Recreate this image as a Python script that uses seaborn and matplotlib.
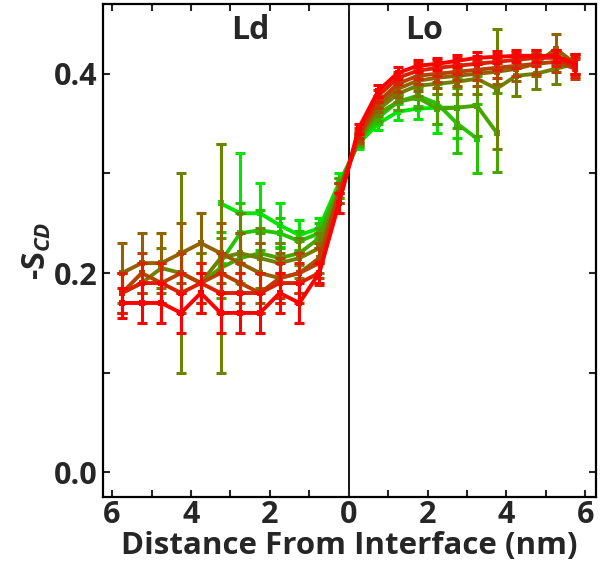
import numpy as np
import pandas as pd
import matplotlib
matplotlib.use("Agg")
import matplotlib.pyplot as plt
import seaborn as sns
from matplotlib.ticker import MultipleLocator, FuncFormatter

# ---------------- data ----------------
x_ld = [-5.75, -5.25, -4.75, -4.25, -3.75, -3.25, -2.75, -2.25, -1.75, -1.25, -0.75, -0.25]
x_lo = [0.25, 0.75, 1.25, 1.75, 2.25, 2.75, 3.25, 3.75, 4.25, 4.75, 5.25, 5.75]
nan = np.nan

series_names = ["s0", "s1", "s2", "s3", "s4", "s5", "s6", "s7"]

ld_values = [
    [nan, nan, nan, nan, nan, 0.270, 0.260, 0.260, 0.248, 0.238, 0.245, 0.290],
    [nan, nan, nan, nan, nan, 0.211, 0.240, 0.243, 0.240, 0.232, 0.240, 0.285],
    [nan, nan, nan, nan, 0.190, 0.205, 0.215, 0.220, 0.215, 0.220, 0.235, 0.285],
    [0.180, 0.190, 0.205, 0.200, 0.190, 0.215, 0.220, 0.215, 0.210, 0.215, 0.225, 0.280],
    [0.200, 0.210, 0.210, 0.220, 0.230, 0.220, 0.210, 0.200, 0.195, 0.200, 0.215, 0.280],
    [0.180, 0.200, 0.190, 0.200, 0.190, 0.200, 0.190, 0.180, 0.195, 0.200, 0.210, 0.280],
    [0.180, 0.190, 0.190, 0.180, 0.190, 0.180, 0.180, 0.180, 0.190, 0.190, 0.200, 0.270],
    [0.170, 0.170, 0.170, 0.160, 0.180, 0.160, 0.160, 0.160, 0.180, 0.170, 0.200, 0.270],
]
ld_errors = [
    [nan, nan, nan, nan, nan, 0.060, 0.060, 0.030, 0.022, 0.015, 0.010, 0.010],
    [nan, nan, nan, nan, nan, 0.030, 0.030, 0.020, 0.015, 0.010, 0.010, 0.010],
    [nan, nan, nan, nan, 0.030, 0.030, 0.025, 0.020, 0.015, 0.012, 0.010, 0.010],
    [0.020, 0.020, 0.020, 0.100, 0.030, 0.115, 0.040, 0.030, 0.020, 0.020, 0.015, 0.010],
    [0.030, 0.030, 0.030, 0.030, 0.030, 0.030, 0.030, 0.030, 0.025, 0.020, 0.015, 0.010],
    [0.020, 0.020, 0.020, 0.020, 0.020, 0.020, 0.020, 0.020, 0.020, 0.020, 0.015, 0.010],
    [0.020, 0.020, 0.020, 0.020, 0.020, 0.020, 0.020, 0.020, 0.020, 0.020, 0.012, 0.010],
    [0.015, 0.020, 0.020, 0.020, 0.020, 0.020, 0.020, 0.020, 0.020, 0.020, 0.010, 0.010],
]
lo_values = [
    [0.330, 0.350, 0.362, 0.365, 0.366, 0.366, nan, nan, nan, nan, nan, nan],
    [0.332, 0.356, 0.372, 0.378, 0.370, 0.350, 0.335, nan, nan, nan, nan, nan],
    [0.333, 0.360, 0.372, 0.376, 0.365, 0.366, 0.368, 0.341, nan, nan, nan, nan],
    [0.335, 0.364, 0.380, 0.388, 0.390, 0.392, 0.395, 0.385, 0.398, 0.400, 0.405, 0.410],
    [0.336, 0.368, 0.385, 0.393, 0.396, 0.398, 0.400, 0.402, 0.405, 0.410, 0.425, 0.410],
    [0.338, 0.372, 0.390, 0.398, 0.400, 0.402, 0.404, 0.406, 0.408, 0.410, 0.412, 0.405],
    [0.341, 0.378, 0.396, 0.403, 0.406, 0.408, 0.410, 0.412, 0.414, 0.416, 0.416, 0.407],
    [0.345, 0.383, 0.401, 0.408, 0.410, 0.413, 0.416, 0.417, 0.418, 0.418, 0.418, 0.410],
]
lo_errors = [
    [0.005, 0.006, 0.008, 0.010, 0.025, 0.030, nan, nan, nan, nan, nan, nan],
    [0.005, 0.006, 0.008, 0.010, 0.020, 0.030, 0.035, nan, nan, nan, nan, nan],
    [0.005, 0.007, 0.008, 0.010, 0.015, 0.020, 0.030, 0.040, nan, nan, nan, nan],
    [0.005, 0.006, 0.008, 0.010, 0.010, 0.012, 0.015, 0.060, 0.020, 0.015, 0.015, 0.010],
    [0.005, 0.006, 0.008, 0.010, 0.010, 0.010, 0.012, 0.012, 0.012, 0.012, 0.015, 0.010],
    [0.005, 0.006, 0.008, 0.008, 0.008, 0.008, 0.010, 0.010, 0.010, 0.010, 0.010, 0.010],
    [0.005, 0.006, 0.006, 0.008, 0.008, 0.008, 0.008, 0.008, 0.008, 0.008, 0.008, 0.010],
    [0.005, 0.006, 0.006, 0.006, 0.006, 0.006, 0.006, 0.006, 0.006, 0.006, 0.006, 0.010],
]

x_ticks = [-6, -4, -2, 0, 2, 4, 6]
y_ticks = [0.0, 0.2, 0.4]

# ---------------- style ----------------
sns.set_style("ticks")
FONT = ["Open Sans", "DejaVu Sans"]
plt.rcParams["font.family"] = FONT
plt.rcParams["font.weight"] = "bold"
plt.rcParams["mathtext.fontset"] = "custom"
plt.rcParams["mathtext.rm"] = "Open Sans:bold"
plt.rcParams["mathtext.bf"] = "Open Sans:bold"
plt.rcParams["mathtext.it"] = "Open Sans:italic:bold"
try:
    plt.rcParams["mathtext.bfit"] = "Open Sans:italic:bold"
except Exception:
    pass

n = len(series_names)
colors = []
for i in range(n):
    t = i / (n - 1)
    colors.append((t * 1.0, (1 - t) * 0.90, 0.0))

fig = plt.figure(figsize=(6.0, 5.69), dpi=100)
ax = fig.add_axes([103 / 600, 1 - 497 / 569, 493 / 600, 493 / 569])

xs = x_ld + x_lo
for i, name in enumerate(series_names):
    y = np.array(ld_values[i] + lo_values[i], dtype=float)
    e = np.array(ld_errors[i] + lo_errors[i], dtype=float)
    df = pd.DataFrame({"x": xs, "y": y, "err": e}).dropna()
    ax.errorbar(df["x"], df["y"], yerr=df["err"], fmt="none", ecolor=colors[i],
                elinewidth=2.2, capsize=3.5, capthick=2.2)
    sns.lineplot(data=df, x="x", y="y", ax=ax, color=colors[i], lw=2.8,
                 marker="s", markersize=4.5, markeredgewidth=0, sort=False,
                 errorbar=None, legend=False)

ax.axvline(0, color="black", lw=1.3, zorder=0.5)

ax.set_xlim(-6.23, 6.27)
ax.set_ylim(-0.0247, 0.470)
ax.set_xticks(x_ticks)
ax.xaxis.set_minor_locator(MultipleLocator(1))
ax.set_yticks(y_ticks)
ax.yaxis.set_minor_locator(MultipleLocator(0.1))
ax.xaxis.set_major_formatter(FuncFormatter(lambda v, p: f"{abs(int(round(v)))}"))
ax.yaxis.set_major_formatter(FuncFormatter(lambda v, p: f"{v:.1f}"))

ax.tick_params(which="both", direction="in", top=True, right=True,
               length=5, width=1.5, labelsize=22)
ax.tick_params(axis="x", which="major", pad=2)
ax.tick_params(axis="y", which="major", pad=4)
for lab in ax.get_xticklabels() + ax.get_yticklabels():
    lab.set_fontweight("bold")
for s in ax.spines.values():
    s.set_linewidth(1.6)
    s.set_color("black")

ax.set_xlabel("Distance From Interface (nm)", fontsize=22.5, fontweight="bold", labelpad=1)
ax.set_ylabel(r"-$\mathbf{S}_{\mathbfit{CD}}$", fontsize=23, fontweight="bold", labelpad=0)

ax.text(-2.5, 0.443, "Ld", fontsize=23, fontweight="bold", ha="center", va="center")
ax.text(1.9, 0.443, "Lo", fontsize=23, fontweight="bold", ha="center", va="center")

fig.savefig("out.png", dpi=100)
